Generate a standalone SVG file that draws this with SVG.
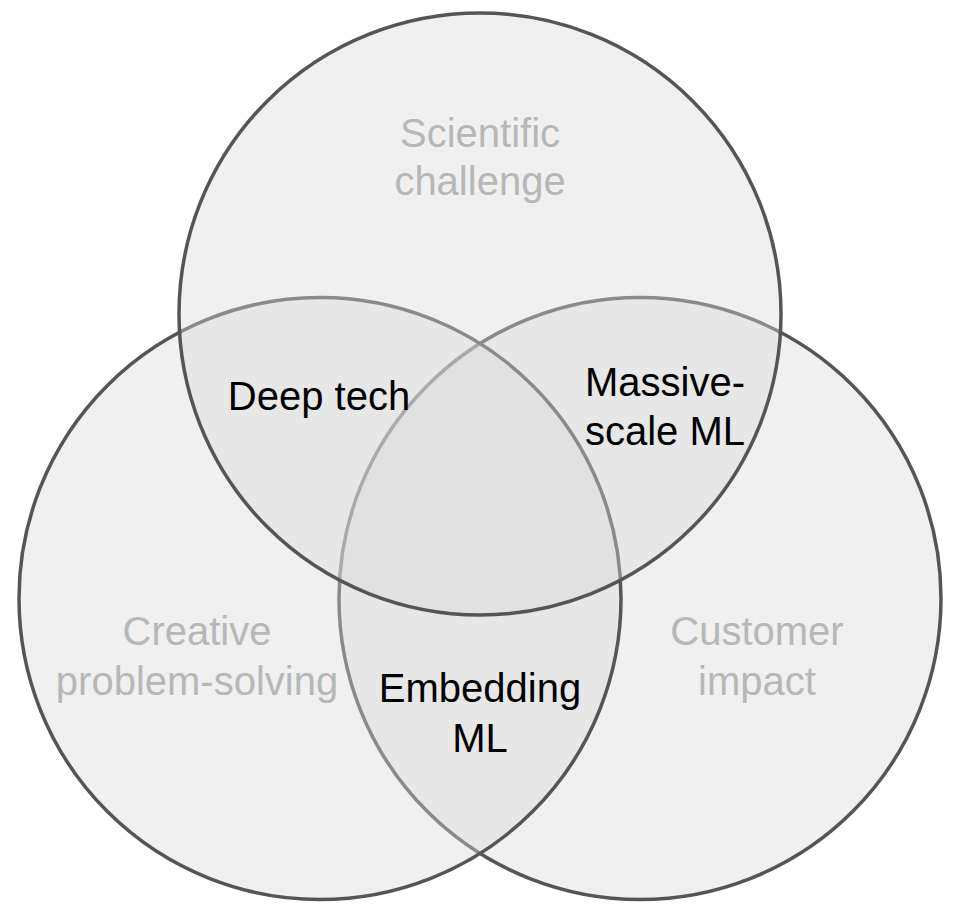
<svg xmlns="http://www.w3.org/2000/svg" width="956" height="918" viewBox="0 0 956 918">
  <style>
    .set { fill: #d9d9d9; fill-opacity: 0.4; stroke: #555555; stroke-width: 3.5; }
    .lbl { font-family: "Liberation Sans", Arial, sans-serif; font-size: 40px; text-anchor: middle; }
    .set-lbl { fill: #b7b7b7; }
    .mix-lbl { fill: #000000; }
  </style>
  <rect width="956" height="918" fill="#ffffff"/>
  <g id="circle-customer-impact">
    <circle class="set" cx="640" cy="598.5" r="301"/>
  </g>
  <g id="circle-creative-problem-solving">
    <circle class="set" cx="320" cy="598.5" r="301"/>
  </g>
  <g id="circle-scientific-challenge">
    <circle class="set" cx="480" cy="314" r="301"/>
  </g>
  <g id="connectors"></g>
  <g id="label-scientific-challenge">
    <text class="lbl set-lbl" x="480" y="147">Scientific</text>
    <text class="lbl set-lbl" x="480" y="195">challenge</text>
  </g>
  <g id="label-creative-problem-solving">
    <text class="lbl set-lbl" x="197" y="645">Creative</text>
    <text class="lbl set-lbl" x="197" y="695">problem-solving</text>
  </g>
  <g id="label-customer-impact">
    <text class="lbl set-lbl" x="757" y="645">Customer</text>
    <text class="lbl set-lbl" x="757" y="695">impact</text>
  </g>
  <g id="label-deep-tech">
    <text class="lbl mix-lbl" x="319" y="410">Deep tech</text>
  </g>
  <g id="label-massive-scale-ml">
    <text class="lbl mix-lbl" x="665" y="396">Massive-</text>
    <text class="lbl mix-lbl" x="665" y="445">scale ML</text>
  </g>
  <g id="label-embedding-ml">
    <text class="lbl mix-lbl" x="480" y="702">Embedding</text>
    <text class="lbl mix-lbl" x="480" y="752">ML</text>
  </g>
</svg>
